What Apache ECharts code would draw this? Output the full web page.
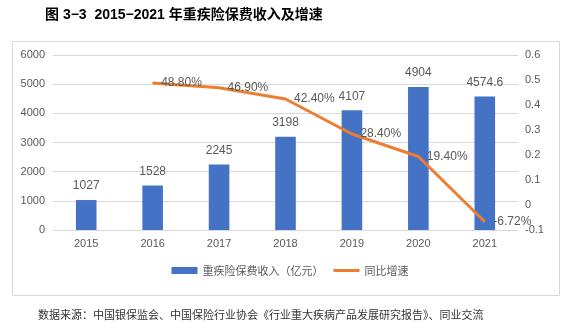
<!DOCTYPE html>
<html><head><meta charset="utf-8">
<script src="https://cdn.jsdelivr.net/npm/echarts@6/dist/echarts.min.js"></script>
<style>html,body{margin:0;padding:0;background:#fff}#c{width:580px;height:336px}</style>
</head><body><div id="c"></div>
<script>
var categories = ['2015','2016','2017','2018','2019','2020','2021'];
var premium = [1027, 1528, 2245, 3198, 4107, 4904, 4574.6];
var growth = [null, 0.488, 0.469, 0.424, 0.284, 0.194, -0.0672];
var growthLabels = ['', '48.80%', '46.90%', '42.40%', '28.40%', '19.40%', '-6.72%'];
var leftTicks = [0, 1000, 2000, 3000, 4000, 5000, 6000];
var rightTicks = [-0.1, 0, 0.1, 0.2, 0.3, 0.4, 0.5, 0.6];

var chart = echarts.init(document.getElementById('c'), null, {renderer:'canvas'});
var font = '"Liberation Sans", Arial, "Noto Sans CJK SC", sans-serif';
chart.setOption({
  animation: false,
  textStyle: {fontFamily: font},
  title: [{
    text: '图 3\u22123  2015\u22122021 年重疾险保费收入及增速',
    left: 40, top: 3,
    textStyle: {fontSize: 14, fontWeight: 'bold', color: '#000', fontFamily: '"Liberation Sans", "Noto Sans CJK SC", sans-serif'}
  }, {
    text: '数据来源：中国银保监会、中国保险行业协会《行业重大疾病产品发展研究报告》、同业交流',
    left: 33, top: 304,
    textStyle: {fontSize: 11, fontWeight: 'normal', color: '#333', fontFamily: '"Noto Sans CJK SC", sans-serif'}
  }],
  graphic: [{
    type: 'rect', left: 10, top: 39, shape: {width: 547, height: 254},
    style: {fill: 'none', stroke: '#d9d9d9', lineWidth: 1}, silent: true
  }],
  legend: {
    bottom: 55, left: 'center',
    itemWidth: 26, itemHeight: 7, itemGap: 10,
    textStyle: {fontSize: 11, color: '#595959', fontFamily: '"Noto Sans CJK SC", sans-serif'},
    data: [{name: '重疾险保费收入（亿元）', icon: 'rect'}, {name: '同比增速', icon: 'path://M0,0 L26,0 L26,3 L0,3 Z'}]
  },
  grid: {left: 53, right: 62, top: 55, bottom: 106},
  xAxis: {
    type: 'category', data: categories,
    axisLine: {lineStyle: {color: '#d9d9d9'}},
    axisTick: {show: false},
    axisLabel: {color: '#595959', fontSize: 11, margin: 8}
  },
  yAxis: [{
    type: 'value', min: 0, max: 6000, interval: 1000,
    axisLine: {show: false}, axisTick: {show: false},
    splitLine: {lineStyle: {color: '#d9d9d9'}},
    axisLabel: {color: '#595959', fontSize: 11, margin: 8,
      formatter: function(v){ return leftTicks.indexOf(v) >= 0 ? String(v) : ''; }}
  }, {
    type: 'value', min: -0.1, max: 0.6, interval: 0.1,
    axisLine: {show: false}, axisTick: {show: false},
    splitLine: {show: false},
    axisLabel: {color: '#595959', fontSize: 11, margin: 7,
      formatter: function(v){
        var r = Math.round(v*10)/10;
        var t = rightTicks.filter(function(x){return Math.abs(x-r)<1e-9;});
        return t.length ? String(t[0]) : '';
      }}
  }],
  series: [{
    name: '重疾险保费收入（亿元）', type: 'bar', data: premium,
    barWidth: '31%',
    itemStyle: {color: '#4472C4'},
    label: {show: true, position: 'top', color: '#595959', fontSize: 12, distance: 8}
  }, {
    name: '同比增速', type: 'line', yAxisIndex: 1, data: growth,
    symbol: 'circle', symbolSize: 1, showSymbol: true,
    lineStyle: {color: '#ED7D31', width: 3},
    itemStyle: {color: '#ED7D31'},
    label: {show: true, position: 'right', distance: 8, color: '#595959', fontSize: 12,
      formatter: function(p){ return growthLabels[p.dataIndex]; }},
    z: 3
  }]
});
</script></body></html>
